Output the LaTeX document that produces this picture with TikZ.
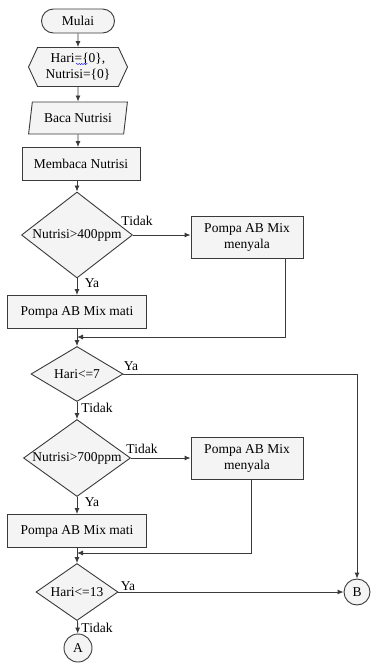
\documentclass[tikz,border=0pt]{standalone}
\usepackage{fontspec}
\setmainfont{Liberation Serif}
\usetikzlibrary{shapes.geometric,shapes.misc,shapes.symbols,arrows.meta,decorations.pathmorphing}
\definecolor{boxfill}{HTML}{F4F4F4}
\definecolor{lineclr}{HTML}{3A3A3A}
\tikzset{
  txt/.style={font=\rmfamily\fontsize{13.5}{16}\selectfont, inner sep=0pt},
  base/.style={txt, draw=lineclr, fill=boxfill, line width=0.9pt},
  process/.style={base, rectangle, align=center},
  decision/.style={base, diamond},
  terminal/.style={base, rounded rectangle},
  connector/.style={base, circle, inner sep=0pt},
  flow/.style={draw=lineclr, line width=0.9pt, -{Latex[length=6pt,width=5pt]}},
  lbl/.style={txt}
}
\begin{document}
\begin{tikzpicture}[x=1pt, y=-1pt]
\useasboundingbox (0,0) rectangle (371,664);
\fill[white] (0,0) rectangle (371,664);

% start and initialisation
\node[terminal, minimum width=73pt, minimum height=24pt] (start) at (78,21) {Mulai};
\node[base, signal, signal to=west and east, signal pointer angle=130,
      minimum width=99pt, minimum height=39pt, align=center] (init) at (78,67) {Hari=\{0\},\\Nutrisi=\{0\}};
\draw[blue, decorate, decoration={snake, amplitude=0.6pt, segment length=2.5pt}] (76,64) -- (87,64);
\node[base, trapezium, trapezium left angle=73, trapezium right angle=107, trapezium stretches=true,
      minimum width=99pt, minimum height=32pt] (input) at (78,118) {Baca Nutrisi};
\node[process, minimum width=118pt, minimum height=33pt] (read) at (81,164) {Membaca Nutrisi};

% first nutrient check
\node[decision, minimum width=111pt, minimum height=86pt] (d1) at (77,235) {};
\node[txt] (d1t) at (d1.center) {Nutrisi>400ppm};
\node[process, minimum width=112pt, minimum height=42pt] (on1) at (247,237) {Pompa AB Mix\\menyala};
\node[process, minimum width=139pt, minimum height=33pt] (off1) at (77,312) {Pompa AB Mix mati};
\coordinate (j1) at (77,337);

% day check
\node[decision, minimum width=92pt, minimum height=55pt] (d2) at (77,374) {};
\node[txt] (d2t) at (d2.center) {Hari<=7};

% second nutrient check
\node[decision, minimum width=107pt, minimum height=77pt] (d3) at (77,458) {};
\node[txt] (d3t) at (d3.center) {Nutrisi>700ppm};
\node[process, minimum width=112pt, minimum height=42pt] (on2) at (247,458) {Pompa AB Mix\\menyala};
\node[process, minimum width=139pt, minimum height=33pt] (off2) at (77,531) {Pompa AB Mix mati};
\coordinate (j2) at (77,553);

% final day check and off-page connectors
\node[decision, minimum width=82pt, minimum height=57pt] (d4) at (77,592) {};
\node[txt] (d4t) at (d4.center) {Hari<=13};
\node[connector, minimum size=28pt] (A) at (78,648) {A};
\node[connector, minimum size=26pt] (B) at (357,592) {B};

% connectors
\draw[flow] (start) -- (init);
\draw[flow] (init) -- (input);
\draw[flow] (input) -- (read.north -| input);
\draw[flow] (read.south -| d1) -- (d1);
\draw[flow] (d1.east) -- (d1.east -| on1.west);
\draw[flow] (d1) -- (off1);
\draw[flow] ([xshift=38pt]on1.south) |- (j1);
\draw[flow] (off1) -- (d2);
\draw[flow] (d2.east) -| (B.north);
\draw[flow] (d2) -- (d3);
\draw[flow] (d3.east) -- (d3.east -| on2.west);
\draw[flow] (d3) -- (off2);
\draw[flow] ([xshift=4pt]on2.south) |- (j2);
\draw[flow] (off2) -- (d4);
\draw[flow] (d4.east) -- (B.west);
\draw[flow] (d4) -- (A);

% branch labels
\node[lbl] (l1) at (137,221) {Tidak};
\node[lbl] (l2) at (92,283) {Ya};
\node[lbl] (l3) at (131,366) {Ya};
\node[lbl] (l4) at (97,408) {Tidak};
\node[lbl] (l5) at (142,449) {Tidak};
\node[lbl] (l6) at (92,502) {Ya};
\node[lbl] (l7) at (128,586) {Ya};
\node[lbl] (l8) at (97,628) {Tidak};
\end{tikzpicture}
\end{document}
